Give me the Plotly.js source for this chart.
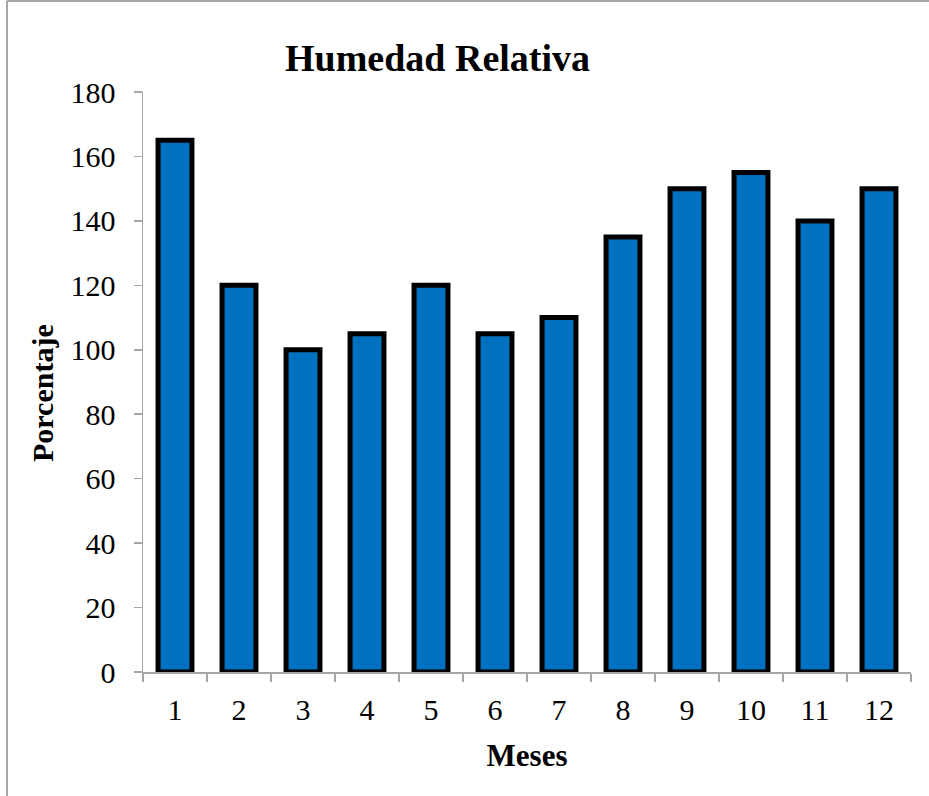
<!DOCTYPE html>
<html>
<head>
<meta charset="utf-8">
<script src="https://cdn.plot.ly/plotly-3.0.1.min.js"></script>
<style>
html,body{margin:0;padding:0;background:#fff;}
#chart{width:929px;height:796px;}
</style>
</head>
<body>
<div id="chart"></div>
<script>
const months = ['1','2','3','4','5','6','7','8','9','10','11','12'];
const humedad = [165, 120, 100, 105, 120, 105, 110, 135, 150, 155, 140, 150];
const yTicks = [0, 20, 40, 60, 80, 100, 120, 140, 160, 180];

const font = '"Liberation Serif", "Times New Roman", serif';

const trace = {
  type: 'bar',
  x: months,
  y: humedad,
  marker: {color: '#0070C0', line: {color: '#000000', width: 5}},
  hoverinfo: 'x+y'
};

const layout = {
  width: 929, height: 796,
  paper_bgcolor: '#ffffff', plot_bgcolor: '#ffffff',
  margin: {l: 143, r: 18, t: 92, b: 124},
  bargap: 0.47,
  showlegend: false,
  title: {text: '<b>Humedad Relativa</b>', font: {family: font, size: 38, color: '#000'},
          x: 0.471, xref: 'container', xanchor: 'center', y: 0.928, yanchor: 'middle'},
  xaxis: {
    type: 'category',
    showline: true, linecolor: '#a6a6a6', linewidth: 1.5,
    ticks: 'outside', ticklen: 8, tickcolor: '#a6a6a6', tickwidth: 1.5,
    tickson: 'boundaries',
    showgrid: false, zeroline: false,
    tickfont: {family: font, size: 30, color: '#000'},
    ticklabelstandoff: 10,
    title: {text: '<b>Meses</b>', font: {family: font, size: 31, color: '#000'}, standoff: 20}
  },
  yaxis: {
    range: [0, 180],
    tickvals: yTicks,
    showline: true, linecolor: '#a6a6a6', linewidth: 1.5,
    ticks: 'outside', ticklen: 8, tickcolor: '#a6a6a6', tickwidth: 1.5,
    showgrid: false, zeroline: false,
    tickfont: {family: font, size: 30, color: '#000'},
    ticklabelstandoff: 12
  },
  annotations: [
    {text: '<b>Porcentaje</b>', xref: 'paper', yref: 'paper', textangle: -90,
     showarrow: false, xanchor: 'center', yanchor: 'middle',
     font: {family: font, size: 30, color: '#000'}}
  ],
  shapes: [
    {type: 'line', xref: 'paper', yref: 'paper', x0: 0, x1: 0, y0: 0, y1: 1, line: {color: '#a6a6a6', width: 2}},
    {type: 'line', xref: 'paper', yref: 'paper', x0: 0, x1: 1, y0: 1, y1: 1, line: {color: '#a6a6a6', width: 2}}
  ]
};

const plotW = 929 - 143 - 18, plotH = 796 - 92 - 124;
const px = v => (v - 143) / plotW;
const py = v => 1 - (v - 92) / plotH;
layout.shapes[0].x0 = px(7); layout.shapes[0].x1 = px(7);
layout.shapes[0].y0 = py(796); layout.shapes[0].y1 = py(1);
layout.shapes[1].x0 = px(7); layout.shapes[1].x1 = px(929);
layout.shapes[1].y0 = py(1); layout.shapes[1].y1 = py(1);
layout.annotations[0].x = px(42);
layout.annotations[0].y = py(393);

Plotly.newPlot('chart', [trace], layout, {displayModeBar: false, staticPlot: true});
</script>
</body>
</html>
